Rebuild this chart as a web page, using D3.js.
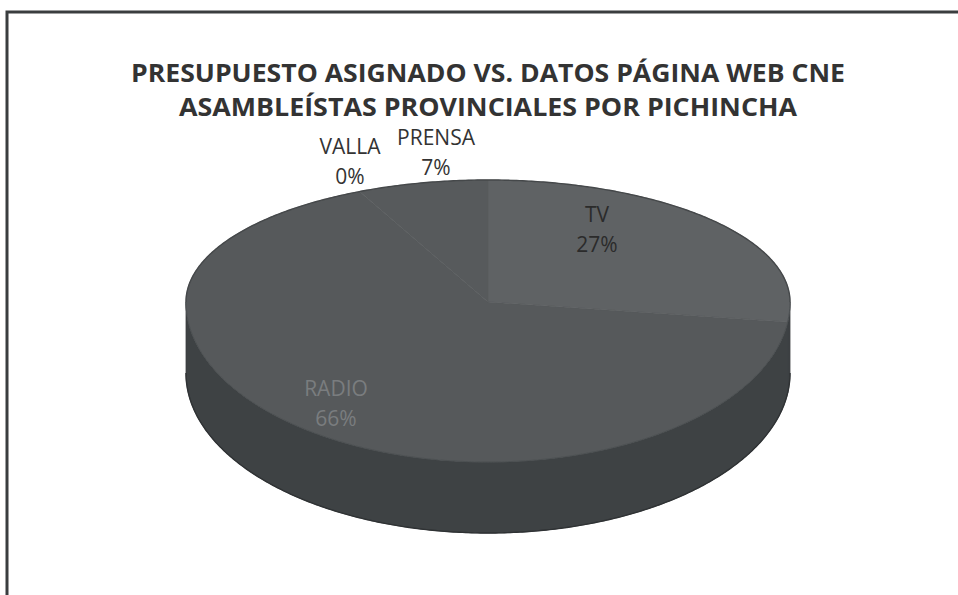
<!DOCTYPE html>
<html>
<head>
<meta charset="utf-8">
<script src="https://cdn.jsdelivr.net/npm/d3@7"></script>
<style>
  html, body { margin: 0; padding: 0; background: #fff; }
  svg { display: block; }
</style>
</head>
<body>
<div id="chart"></div>
<script>
const categories = ['TV', 'RADIO', 'PRENSA', 'VALLA'];
const values = [27, 66, 7, 0];
const titleLines = [
  'PRESUPUESTO ASIGNADO VS. DATOS PÁGINA WEB CNE',
  'ASAMBLEÍSTAS PROVINCIALES POR PICHINCHA'
];
const topColors = ['#5f6264', '#56595b', '#575a5c', '#575a5c'];

const width = 958, height = 595;
const cx = 488, cy = 302, rx = 302, ryBack = 122, ryFront = 160, depth = 71;

const svg = d3.select('#chart').append('svg')
  .attr('width', width).attr('height', height);

// frame (only top and left edges are visible in the scan)
svg.append('path')
  .attr('d', `M7,${height} L7,12 L${width},12`)
  .attr('fill', 'none').attr('stroke', '#3a3d3f').attr('stroke-width', 3);

svg.selectAll('text.title')
  .data(titleLines)
  .join('text')
  .attr('class', 'title')
  .attr('x', cx)
  .attr('y', (d, i) => 82 + i * 34)
  .attr('text-anchor', 'middle')
  .attr('font-family', 'Open Sans, sans-serif')
  .attr('font-weight', 700)
  .attr('font-size', 25)
  .attr('fill', '#333')
  .attr('textLength', (d, i) => i === 0 ? 714 : 618)
  .attr('lengthAdjust', 'spacingAndGlyphs')
  .text(d => d);

// projected point on the tilted disc (front half is larger because of perspective)
function pt(a, r, dy = 0) {
  const ry = Math.cos(a) > 0 ? ryBack : ryFront;
  return [cx + rx * r * Math.sin(a), cy - ry * r * Math.cos(a) + dy];
}

function arcPoints(a0, a1, dy = 0) {
  const n = Math.max(2, Math.ceil(Math.abs(a1 - a0) / 0.01));
  return d3.range(n + 1).map(i => pt(a0 + (a1 - a0) * i / n, 1, dy));
}

const pie = d3.pie().sort(null).value(d => d.value);
const arcs = pie(categories.map((c, i) => ({ name: c, value: values[i], color: topColors[i] })));

const line = d3.line();

// side walls: only the front part (between 90° and 270°) can be seen
const sides = svg.append('g');
arcs.forEach(d => {
  const a0 = Math.max(d.startAngle, Math.PI / 2);
  const a1 = Math.min(d.endAngle, Math.PI * 1.5);
  if (a1 <= a0) return;
  const top = arcPoints(a0, a1);
  const bottom = arcPoints(a1, a0, depth);
  sides.append('path')
    .attr('d', line(top.concat(bottom)) + 'Z')
    .attr('fill', '#3e4244')
    .attr('stroke', '#3a3e40')
    .attr('stroke-width', 0.8);
});

// top faces
svg.append('g')
  .selectAll('path')
  .data(arcs.filter(d => d.value > 0))
  .join('path')
  .attr('d', d => line([pt(0, 0)].concat(arcPoints(d.startAngle, d.endAngle))) + 'Z')
  .attr('fill', d => d.data.color)
  .attr('stroke', d => d.data.color)
  .attr('stroke-width', 0.6);

// outline of the disc
svg.append('path')
  .attr('d', line(arcPoints(-Math.PI / 2, Math.PI / 2)))
  .attr('fill', 'none').attr('stroke', '#45484a').attr('stroke-width', 1.4);
svg.append('path')
  .attr('d', line(arcPoints(Math.PI / 2, Math.PI * 1.5)))
  .attr('fill', 'none').attr('stroke', '#4c5052').attr('stroke-width', 1);
svg.append('path')
  .attr('d', line(arcPoints(Math.PI / 2, Math.PI * 1.5, depth)))
  .attr('fill', 'none').attr('stroke', '#2f3234').attr('stroke-width', 1.4);

// data labels: position, text colour
const labelPos = {
  TV: [597, 215, '#2b2b2b'],
  RADIO: [336, 389, '#7a7d7f'],
  PRENSA: [436, 138, '#333'],
  VALLA: [350, 147, '#333']
};
const lab = svg.append('g')
  .attr('font-family', 'Open Sans, sans-serif')
  .attr('font-size', 21)
  .attr('text-anchor', 'middle');
arcs.forEach(d => {
  const [x, y, col] = labelPos[d.data.name];
  const t = lab.append('text').attr('x', x).attr('y', y).attr('fill', col);
  t.append('tspan').attr('x', x).attr('dy', '0.35em').text(d.data.name);
  t.append('tspan').attr('x', x).attr('dy', 30).text(d3.format('.0%')(d.value / d3.sum(values)));
});
</script>
</body>
</html>
